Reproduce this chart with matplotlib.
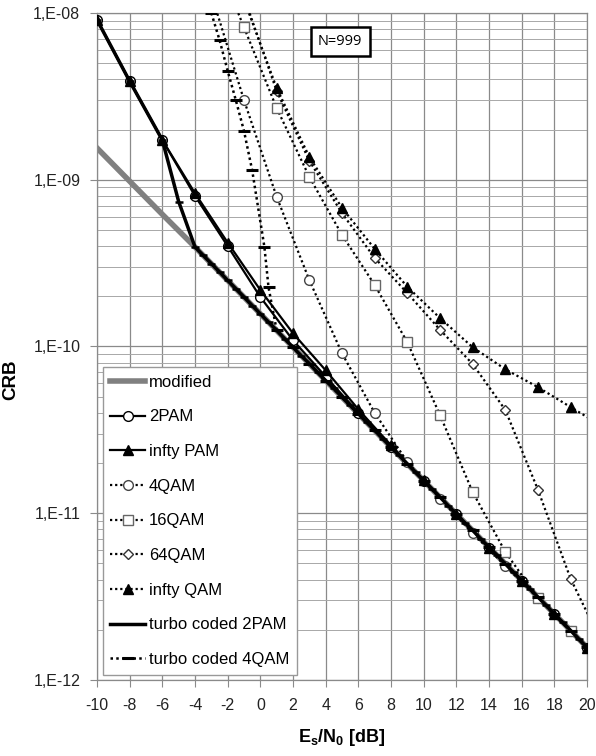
import numpy as np
import matplotlib
matplotlib.use("Agg")
import matplotlib.pyplot as plt
from matplotlib.ticker import FixedLocator, FuncFormatter, NullFormatter

plt.rcParams['font.family'] = ['Liberation Sans', 'DejaVu Sans']
plt.rcParams['mathtext.fontset'] = 'custom'
plt.rcParams['mathtext.rm'] = 'Liberation Sans'
plt.rcParams['mathtext.bf'] = 'Liberation Sans:bold'
plt.rcParams['axes.unicode_minus'] = False

# ---- data (Es/N0 in dB, CRB) ----
mod_x = [-10, -8, -6, -4, 0, 4, 8, 12, 16, 20]
mod_y = [1.55e-9, 9.8e-10, 6.2e-10, 3.95e-10, 1.57e-10, 6.25e-11, 2.49e-11, 9.9e-12, 3.95e-12, 1.57e-12]

pam_x = [-10, -8, -6, -4, -2, 0, 2, 4, 6, 8, 10, 12, 14, 16, 18, 20]
pam2_y = [9.1e-9, 3.9e-9, 1.73e-9, 8.0e-10, 4.0e-10, 1.98e-10, 1.09e-10, 6.6e-11, 4.0e-11,
          2.5e-11, 1.57e-11, 9.9e-12, 6.2e-12, 3.95e-12, 2.48e-12, 1.55e-12]
paminf_y = [9.1e-9, 3.9e-9, 1.73e-9, 8.3e-10, 4.2e-10, 2.18e-10, 1.2e-10, 7.2e-11, 4.2e-11,
            2.55e-11, 1.58e-11, 9.9e-12, 6.2e-12, 3.95e-12, 2.48e-12, 1.55e-12]

qam_x = [-3, -1, 1, 3, 5, 7, 9, 11, 13, 15, 17, 19, 21]
qam4_y = [1.3e-8, 3.0e-9, 7.9e-10, 2.5e-10, 9.1e-11, 4.0e-11, 2.03e-11, 1.22e-11, 7.6e-12,
          4.83e-12, 3.1e-12, 1.97e-12, 1.25e-12]
qam16_y = [2.5e-8, 8.2e-9, 2.69e-9, 1.04e-9, 4.67e-10, 2.34e-10, 1.06e-10, 3.88e-11, 1.34e-11,
           5.86e-12, 3.1e-12, 1.97e-12, 1.25e-12]
qam64_y = [4.0e-8, 1.25e-8, 3.4e-9, 1.3e-9, 6.3e-10, 3.4e-10, 2.09e-10, 1.26e-10, 7.85e-11,
           4.16e-11, 1.38e-11, 4.04e-12, 1.6e-12]
qaminf_y = [4.0e-8, 1.2e-8, 3.55e-9, 1.37e-9, 6.78e-10, 3.85e-10, 2.28e-10, 1.48e-10, 9.9e-11,
            7.3e-11, 5.7e-11, 4.33e-11, 3.3e-11]

tc2_x = [-10, -8, -6, -5, -4, -3.5, -3, -2.5, -2, -1.5, -1, -0.5, 0, 0.5, 1, 1.5, 2, 2.5, 3, 3.5,
         4, 4.5, 5, 5.5, 6, 6.5, 7, 7.5, 8, 8.5, 9, 9.5, 10, 10.5, 11, 11.5, 12, 12.5, 13, 13.5,
         14, 14.5, 15, 15.5, 16, 16.5, 17, 17.5, 18, 18.5, 19, 19.5, 20]
tc2_y = [9.1e-9, 3.9e-9, 1.73e-9, 7.4e-10, 3.95e-10, 3.52e-10, 3.14e-10, 2.8e-10, 2.49e-10,
         2.22e-10, 1.98e-10, 1.76e-10, 1.57e-10, 1.4e-10, 1.25e-10, 1.11e-10, 9.9e-11, 8.8e-11,
         7.9e-11, 7.0e-11, 6.25e-11, 5.6e-11, 4.97e-11, 4.43e-11, 3.95e-11, 3.52e-11, 3.14e-11,
         2.8e-11, 2.49e-11, 2.22e-11, 1.98e-11, 1.76e-11, 1.57e-11, 1.4e-11, 1.25e-11, 1.11e-11,
         9.9e-12, 8.8e-12, 7.9e-12, 7.0e-12, 6.25e-12, 5.6e-12, 4.97e-12, 4.43e-12, 3.95e-12,
         3.52e-12, 3.14e-12, 2.8e-12, 2.49e-12, 2.22e-12, 1.98e-12, 1.76e-12, 1.57e-12]

tc4_x = [-3, -2.5, -2, -1.5, -1, -0.5, 0.25, 0.5, 1, 2, 3, 4, 5, 6, 7, 8, 9, 10, 11, 12, 13,
         14, 15, 16, 17, 18, 19, 20]
tc4_y = [1.0e-8, 6.9e-9, 4.5e-9, 3.0e-9, 1.96e-9, 1.14e-9, 3.95e-10, 2.27e-10, 1.25e-10,
         9.9e-11, 7.9e-11, 6.25e-11, 4.97e-11, 3.95e-11, 3.14e-11, 2.49e-11, 1.98e-11, 1.57e-11,
         1.25e-11, 9.9e-12, 7.9e-12, 6.25e-12, 4.97e-12, 3.95e-12, 3.14e-12, 2.49e-12, 1.98e-12,
         1.57e-12]

x_ticks = [-10, -8, -6, -4, -2, 0, 2, 4, 6, 8, 10, 12, 14, 16, 18, 20]
y_exps = [12, 11, 10, 9, 8]

# ---- figure ----
fig = plt.figure(figsize=(5.96, 7.56), dpi=100)
ax = fig.add_axes([97 / 596, 1 - 680 / 756, 490 / 596, 667 / 756])
ax.set_yscale('log')

dot = (0, (1, 1.3))
ax.plot(mod_x, mod_y, color='#808080', lw=4, label='modified', zorder=2)
ax.plot(pam_x, pam2_y, 'k-', lw=1.6, marker='o', ms=7, mfc='white', mec='black', mew=1,
        label='2PAM', zorder=3)
ax.plot(pam_x, paminf_y, 'k-', lw=1.6, marker='^', ms=7, mfc='black', mec='black',
        label='infty PAM', zorder=3)
ax.plot(qam_x, qam4_y, color='black', ls=dot, lw=1.6, marker='o', ms=7, mfc='white',
        mec='#444444', mew=1, label='4QAM', zorder=3)
ax.plot(qam_x, qam16_y, color='black', ls=dot, lw=1.6, marker='s', ms=6.5, mfc='white',
        mec='#666666', mew=1, label='16QAM', zorder=3)
ax.plot(qam_x, qam64_y, color='black', ls=dot, lw=1.6, marker='D', ms=5.5, mfc='white',
        mec='#333333', mew=1, label='64QAM', zorder=3)
ax.plot(qam_x, qaminf_y, color='black', ls=dot, lw=1.6, marker='^', ms=7, mfc='black',
        mec='black', label='infty QAM', zorder=3)
ax.plot(tc2_x, tc2_y, 'k-', lw=2.5, marker='_', ms=6, mew=1.8, label='turbo coded 2PAM',
        zorder=4)
ax.plot(tc4_x, tc4_y, color='black', ls=dot, lw=1.8, marker='_', ms=8, mew=2.2,
        label='turbo coded 4QAM', zorder=4)

ax.set_xlim(-10, 20)
ax.set_ylim(1e-12, 1e-8)
ax.xaxis.set_major_locator(FixedLocator(x_ticks))
ax.yaxis.set_major_locator(FixedLocator([10.0 ** -e for e in y_exps]))
# minor lines at 2..9 within each decade shown
minor = [m * 10.0 ** -e for e in y_exps[:-1] for m in range(2, 10)]
ax.yaxis.set_minor_locator(FixedLocator(minor))
ax.yaxis.set_minor_formatter(NullFormatter())
ax.yaxis.set_major_formatter(FuncFormatter(lambda v, p: '1,E-%02d' % round(-np.log10(v))))

gc = '#8a8a8a'
ax.grid(True, which='major', color=gc, lw=0.9)
ax.grid(True, which='minor', axis='y', color='#a8a8a8', lw=0.7)
ax.set_axisbelow(True)
for s in ax.spines.values():
    s.set_color(gc)
    s.set_linewidth(0.9)
ax.tick_params(axis='both', which='major', colors=gc, labelcolor='#222222', labelsize=11.5,
               length=5)
ax.tick_params(axis='y', which='major', pad=7)
ax.tick_params(axis='x', which='major', pad=8)
ax.tick_params(axis='y', which='minor', length=0)

ax.set_xlabel(r'$\mathbf{E_s/N_0}$ [dB]', fontsize=13, fontweight='bold', labelpad=10)
ax.set_ylabel('CRB', fontsize=13.5, fontweight='bold')
ax.yaxis.set_label_coords(-0.158, 0.45)

ax.text(0.496, 0.957, 'N=999', transform=ax.transAxes, ha='center', va='center',
        fontsize=10.5, family=['Open Sans', 'DejaVu Sans'], zorder=6,
        bbox=dict(boxstyle='square,pad=0.5', fc='white', ec='black', lw=1.8))

leg = ax.legend(loc='lower left', bbox_to_anchor=(0.012, 0.008), borderaxespad=0,
                fontsize=12, labelspacing=1.18, handlelength=2.1, handletextpad=0.2,
                borderpad=0.45, fancybox=False, framealpha=1, edgecolor='#999999')
leg.get_frame().set_linewidth(1.0)
leg.set_zorder(5)

fig.savefig('out.png', dpi=100)
